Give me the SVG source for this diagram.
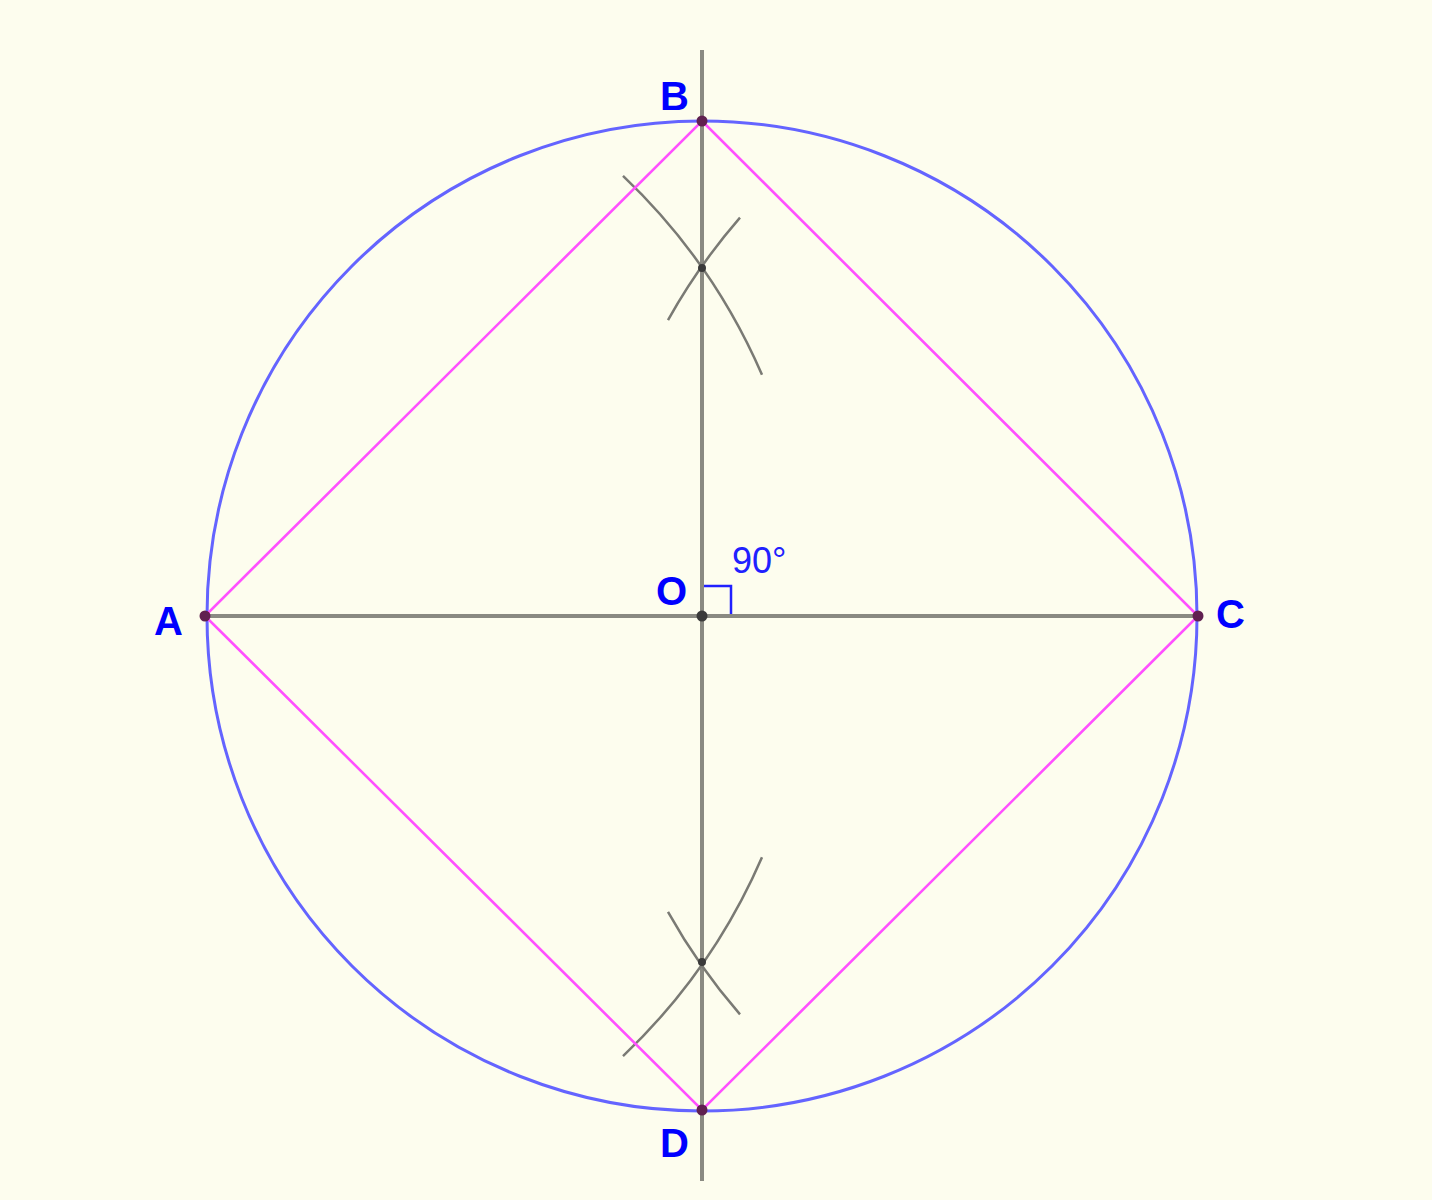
<svg xmlns="http://www.w3.org/2000/svg" width="1432" height="1200" viewBox="0 0 1432 1200">
<style>
.lbl{font-family:"Liberation Sans",Arial,sans-serif;font-weight:bold;font-size:40px;fill:#0000ff}
.ang{font-family:"Liberation Sans",Arial,sans-serif;font-size:36px;fill:#2020ff}
.axis{stroke:#8a8a82;stroke-width:4;fill:none}
.arc{stroke:#7a7a74;stroke-width:2.5;fill:none}
.sq{stroke:#ff50ff;stroke-width:2.6;fill:none}
.pt{fill:#602050}
.pto{fill:#3a3a3a}
</style>
<rect x="0" y="0" width="1432" height="1200" fill="#fdfdee"/>
<g id="circle">
<circle cx="702" cy="616" r="495" fill="none" stroke="#6464ff" stroke-width="3"/>
</g>
<g id="connectors">
<line class="axis" x1="702" y1="50" x2="702" y2="1181"/>
<line class="axis" x1="205" y1="616" x2="1198" y2="616"/>
<path class="arc" d="M623,175.9 A607,607 0 0 1 762,374.8"/>
<path class="arc" d="M668,320.1 A607,607 0 0 1 740,217.6"/>
<path class="arc" d="M762,857.2 A607,607 0 0 1 623,1056.1"/>
<path class="arc" d="M740,1014.4 A607,607 0 0 1 668,911.9"/>
<polygon class="sq" points="702,121 1198,616 702,1110 205,616"/>
<polyline points="704,586 731,586 731,614" fill="none" stroke="#2020ff" stroke-width="2.5"/>
<circle cx="702" cy="268" r="4" class="pto"/>
<circle cx="702" cy="962" r="4" class="pto"/>
</g>
<g id="node-A"><circle cx="205" cy="616" r="5.5" class="pt"/><text class="lbl" x="154" y="635">A</text></g>
<g id="node-B"><circle cx="702" cy="121" r="5.5" class="pt"/><text class="lbl" x="660" y="110">B</text></g>
<g id="node-C"><circle cx="1198" cy="616" r="5.5" class="pt"/><text class="lbl" x="1216" y="628">C</text></g>
<g id="node-D"><circle cx="702" cy="1110" r="5.5" class="pt"/><text class="lbl" x="660" y="1157">D</text></g>
<g id="node-O"><circle cx="702" cy="616" r="5.5" class="pto"/><text class="lbl" x="656" y="605">O</text></g>
<g id="angle-label"><text class="ang" x="732" y="573">90°</text></g>
</svg>
